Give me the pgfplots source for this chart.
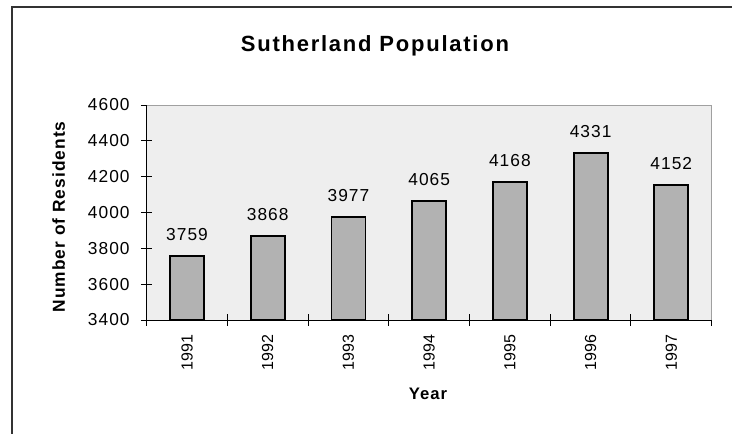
\documentclass[border=0pt]{standalone}
\usepackage{pgfplots}
\pgfplotsset{compat=1.18}
\usepackage{fontspec}
\setmainfont{Liberation Sans}[LetterSpace=6]
\newfontfamily\titlefont{Liberation Sans}[LetterSpace=8]
\newfontfamily\plainfont{Liberation Sans}
\definecolor{plotbg}{HTML}{EEEEEE}
\definecolor{barfill}{HTML}{B2B2B2}
\definecolor{frameg}{HTML}{A0A0A0}
\begin{document}
\begin{tikzpicture}
\useasboundingbox (-110pt,-84.75pt) rectangle (439pt,240pt);
\draw[line width=0.9pt, color=black!80] (-101pt,-95pt) -- (-101pt,234.75pt) -- (445pt,234.75pt);
\begin{axis}[
  scale only axis, width=423.75pt, height=161.25pt,
  xmin=-0.5, xmax=6.5, ymin=3400, ymax=4600,
  ybar, bar width=25.5pt,
  axis background/.style={fill=plotbg},
  axis line style={draw=frameg, line width=0.75pt},
  xtick={-0.5,0.5,...,6.5}, xticklabels={},
  extra x ticks={0,1,2,3,4,5,6},
  extra x tick labels={1991,1992,1993,1994,1995,1996,1997},
  extra x tick style={major tick length=0pt, tick style={draw=none},
     xticklabel style={rotate=90, anchor=east, xshift=-7.5pt, font=\plainfont\fontsize{12pt}{14pt}\selectfont}},
  ytick={3400,3600,...,4600},
  tick pos=left, tick align=center, major tick length=8.5pt,
  tick style={black, line width=0.75pt},
  /pgf/number format/.cd, 1000 sep={}, assume math mode=true, /pgfplots/.cd,
  yticklabel style={xshift=-5pt, font=\fontsize{13pt}{15pt}\selectfont},
  nodes near coords,
  every node near coord/.append style={font=\fontsize{13pt}{15pt}\selectfont, text=black, yshift=7.5pt},
]
\addplot[fill=barfill, draw=black, line width=1.4pt] coordinates {
(0,3759) (1,3868) (2,3977) (3,4065) (4,4168) (5,4331) (6,4152)};
\end{axis}
\draw[black, line width=0.75pt] (0,161.25pt) -- (0,0) -- (423.75pt,0);
\node[anchor=base, font=\titlefont\bfseries\fontsize{16.5pt}{19pt}\selectfont] at (171.2pt,201.2pt) {Sutherland Population};
\node[anchor=base, rotate=90, font=\bfseries\fontsize{13pt}{15pt}\selectfont] at (-61.3pt,77.25pt) {Number of Residents};
\node[anchor=base, font=\bfseries\fontsize{12.5pt}{15pt}\selectfont] at (211pt,-59.25pt) {Year};
\end{tikzpicture}
\end{document}
